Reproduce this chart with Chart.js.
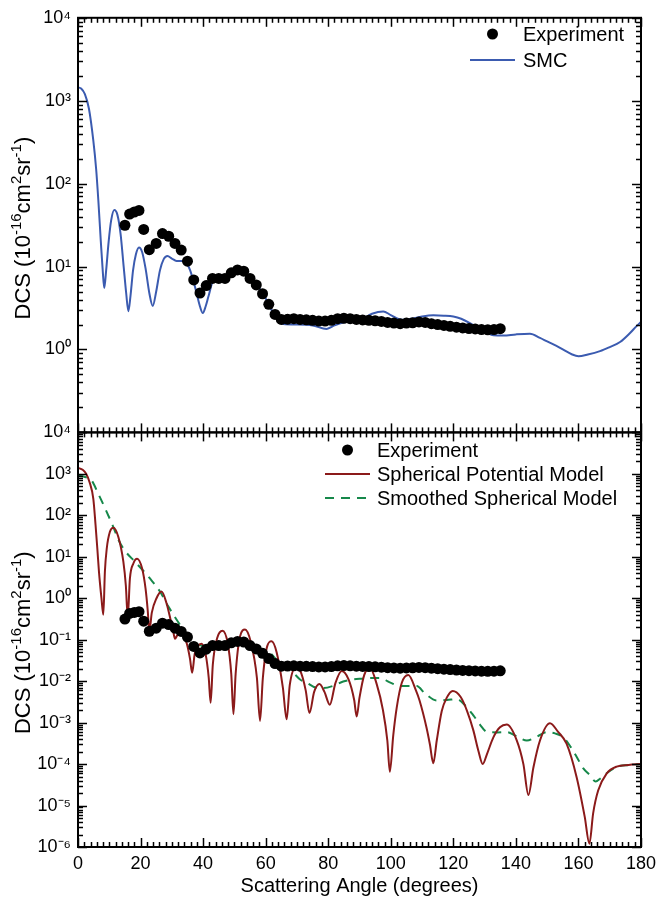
<!DOCTYPE html>
<html>
<head>
<meta charset="utf-8">
<script src="https://cdn.jsdelivr.net/npm/chart.js@4.4.1/dist/chart.umd.min.js"></script>
<style>
html,body{margin:0;padding:0;background:#fff;}
#wrap{position:relative;width:657px;height:909px;}
</style>
</head>
<body>
<div id="wrap"><canvas id="c"></canvas></div>
<script>
// ---------- DATA ----------
const expAngles = [15,16.5,18,19.5,21,22.8,25,27,29,31,33,35,37,39,41,43,45,47,49,51,53,55,57,59,61,63,65,67,69,71,73,75,77,79,81,83,85,87,89,91,93,95,97,99,101,103,105,107,109,111,113,115,117,119,121,123,125,127,129,131,133,135];
const expTop = [31.5,43,45.5,47.5,28,16,19,25,23.2,19,15.8,11.6,6.9,4.8,5.9,7.2,7.2,7.2,8.4,9.1,8.8,7.2,6.0,4.7,3.5,2.65,2.3,2.32,2.35,2.3,2.28,2.25,2.2,2.2,2.25,2.35,2.38,2.35,2.3,2.27,2.25,2.22,2.18,2.12,2.08,2.05,2.08,2.1,2.15,2.12,2.05,2.0,1.95,1.9,1.86,1.82,1.79,1.77,1.74,1.73,1.74,1.78];
const expBottom = [0.315,0.43,0.455,0.475,0.28,0.16,0.19,0.25,0.232,0.19,0.158,0.116,0.069,0.048,0.059,0.072,0.072,0.072,0.084,0.091,0.088,0.072,0.060,0.047,0.035,0.0265,0.023,0.0232,0.0235,0.023,0.0228,0.0225,0.022,0.022,0.0225,0.0235,0.0238,0.0235,0.023,0.0227,0.0225,0.0222,0.0218,0.0212,0.0208,0.0205,0.0208,0.021,0.0215,0.0212,0.0205,0.020,0.0195,0.019,0.0186,0.0182,0.0179,0.0177,0.0174,0.0173,0.0174,0.0178];

const smcAngles = [0,1,2.2,3.5,4.9,5.8,6.5,7.3,7.9,8.4,9,9.8,10.6,11.6,12.6,13.6,14.6,15.4,16.1,16.8,17.6,18.5,19.5,20.5,21.6,22.8,23.9,25,26.2,27.4,28.6,30,31.5,33.7,35,35.8,37,37.9,39,39.9,40.8,41.7,43.3,45,47,49,51,53,55,57,59,61,63,65.6,70,75,79.5,82,84.8,88,91,94,97.6,100,103.5,106.5,110,113.6,117,120,122.5,125.3,128,130.5,132.8,136,140,144.5,147.7,150,152,155,158,160,163,166.9,170,173.3,176.5,178.5,180];
const smcValues = [1450,1400,1200,800,330,150,63,20,9,5.5,9,20,36,48,42,25,10,4.8,2.9,4.5,9,14,17,15,9.5,4.8,3.35,5,9,12.3,13.4,12.5,11.7,11.7,10.5,9.1,6.5,4.8,3.3,2.75,3.3,4.35,6.9,7.3,7.3,8.2,9.0,8.8,7.5,6.1,4.8,3.5,2.5,2.03,2.0,1.95,1.77,1.95,2.12,2.2,2.35,2.7,2.88,2.6,2.28,2.35,2.5,2.58,2.56,2.5,2.35,2.08,1.8,1.62,1.48,1.47,1.52,1.55,1.38,1.25,1.15,1.0,0.87,0.83,0.87,0.955,1.07,1.23,1.58,1.9,2.15];

const spmAngles = [0,1.5,2.6,3.7,4.9,5.6,6.2,6.7,7.5,8.1,8.6,9.2,10.2,11.3,12.9,14.5,15.3,15.9,16.6,17.7,18.9,20.5,21.6,22.3,22.8,23.6,25.1,26.7,28.3,29.7,30.5,31,31.8,33.3,34.8,35.8,36.5,37.3,38.3,39.5,40.8,41.8,42.4,43.1,44.5,46.2,47.9,49,49.7,50.4,51.8,53.4,55.2,57.2,58.2,59.1,60.5,61.9,63.5,65.5,66.7,67.7,69.6,71,72.8,74,75.5,77.2,78.8,80.5,82.3,84.3,86.5,88.3,89.1,90,91.5,93.3,95.5,97.5,98.9,99.7,100.8,101.9,103.5,105.6,108.1,109.2,111.4,112.5,113.6,114.7,116.3,117.9,119.8,122.3,124.4,126.4,128,129.4,130.7,132.8,134.9,137.1,140.3,142.4,144,145.6,147.7,150.9,153.5,156.2,159.4,162,163.5,164.7,166.3,169,172.2,176,180];
const spmValues = [1400,1250,1000,630,250,60,15,4.4,1.0,0.4,4.4,16,40,50,30,7.6,2.0,0.35,3.0,6.9,9.0,5.2,1.7,0.5,0.16,0.45,1.0,1.45,0.76,0.28,0.15,0.105,0.13,0.15,0.08,0.035,0.016,0.045,0.07,0.08,0.045,0.012,0.003,0.025,0.11,0.165,0.08,0.015,0.0016,0.015,0.12,0.175,0.09,0.012,0.0011,0.012,0.07,0.092,0.05,0.007,0.0012,0.008,0.021,0.018,0.006,0.0017,0.0055,0.0085,0.0055,0.0027,0.009,0.0176,0.011,0.0035,0.0014,0.004,0.014,0.021,0.0085,0.002,0.00037,0.000065,0.0005,0.0023,0.009,0.014,0.0058,0.0034,0.00077,0.0003,0.000105,0.00037,0.0019,0.004,0.0058,0.0042,0.0019,0.00065,0.00021,0.0001,0.00017,0.00044,0.00077,0.0009,0.00037,0.0001,0.000018,0.000083,0.00037,0.00096,0.0006,0.00031,0.000049,0.0000054,0.0000012,0.0000065,0.000023,0.000059,0.000087,0.000095,0.0001];

const ssmAngles = [0,2,4.3,6.5,9.2,11.3,13,15,18.2,21,23,26.2,28.9,32.6,36.3,38.5,42,46,50,54,58,61.4,64,66.7,68.8,71,73.1,76,78.4,81.6,84.8,88,91,94,96.5,99.5,102.9,106,108.3,111,114.7,118,121.1,124,126.4,128.5,130.7,134,137.1,140,143.5,146.5,149.9,152.5,155.2,157.5,159.5,161.5,163.7,165.5,167,169,172.2,176,180];
const ssmValues = [900,850,700,330,120,52,25,14,7.6,4.5,3.0,1.45,0.63,0.23,0.1,0.075,0.07,0.075,0.08,0.075,0.062,0.048,0.03,0.021,0.016,0.011,0.0092,0.007,0.0068,0.0077,0.0098,0.011,0.0115,0.012,0.012,0.0095,0.0077,0.0076,0.0076,0.005,0.0034,0.0035,0.0037,0.0025,0.0015,0.0009,0.0006,0.00058,0.00059,0.00048,0.00037,0.00045,0.00059,0.00055,0.00044,0.00026,0.000146,0.00008,0.000054,0.000038,0.000045,0.00006,0.000085,0.000095,0.0001];

const xTickValues = [0,20,40,60,80,100,120,140,160,180];
const xTickLabels = ['0','20','40','60','80','100','120','140','160','180'];
const yTopTickValues = [0.1,1,10,100,1000,10000];
const yTopTickLabels = ['','10\u2070','10\u00B9','10\u00B2','10\u00B3','10\u2074'];
const yBotTickValues = [1e-6,1e-5,1e-4,1e-3,1e-2,1e-1,1,10,100,1000,10000];
const yBotTickLabels = ['10\u207B\u2076','10\u207B\u2075','10\u207B\u2074','10\u207B\u00B3','10\u207B\u00B2','10\u207B\u00B9','10\u2070','10\u00B9','10\u00B2','10\u00B3','10\u2074'];

const xTitle = 'Scattering Angle (degrees)';
// y-axis title pieces: [text, isSuperscript]
const yTitleParts = [['DCS (10', false], ['-16', true], ['cm', false], ['2', true], ['sr', false], ['-1', true], [')', false]];
const labels = ['Experiment','SMC','Experiment','Spherical Potential Model','Smoothed Spherical Model'];

// ---------- BUILD ----------
const pts = (a, v) => a.map((x, i) => ({x: x, y: v[i]}));
const FONT = "'Liberation Sans', Arial, Helvetica, sans-serif";
Chart.defaults.font.family = FONT;
Chart.defaults.color = '#000';

const framePlugin = {
  id: 'frame',
  afterDatasetsDraw(chart) {
    const ctx = chart.ctx;
    const xs = chart.scales.x;
    const panels = [chart.scales.yTop, chart.scales.yBot];
    ctx.save();
    ctx.strokeStyle = '#000';
    const seg = (x1, y1, x2, y2) => { ctx.beginPath(); ctx.moveTo(x1, y1); ctx.lineTo(x2, y2); ctx.stroke(); };
    panels.forEach(ys => {
      const L = xs.left, R = xs.right, T = ys.top, B = ys.bottom;
      ctx.lineWidth = 1.5;
      for (let v = xs.min; v <= xs.max + 1e-9; v += 2) {
        const px = Math.round(xs.getPixelForValue(v)) + 0.5;
        const len = (Math.round(v) % 20 === 0) ? 9 : 5;
        seg(px, T, px, T + len);
        seg(px, B, px, B - len);
      }
      const dmin = Math.round(Math.log10(ys.min)), dmax = Math.round(Math.log10(ys.max));
      for (let d = dmin; d <= dmax; d++) {
        for (let m = 1; m <= 9; m++) {
          const v = m * Math.pow(10, d);
          if (v > ys.max * 1.0001) break;
          const py = Math.round(ys.getPixelForValue(v)) + 0.5;
          const len = m === 1 ? 9 : 5;
          seg(L, py, L + len, py);
          seg(R, py, R - len, py);
        }
      }
      ctx.lineWidth = 2;
      ctx.strokeRect(L, T, R - L, B - T);
    });
    ctx.restore();
  }
};

const yTitlePlugin = {
  id: 'yTitles',
  afterDraw(chart, args, opts) {
    const ctx = chart.ctx;
    const mainF = opts.size + 'px ' + FONT, supF = opts.supSize + 'px ' + FONT;
    ctx.save();
    ctx.fillStyle = '#000';
    ctx.textBaseline = 'alphabetic';
    ctx.textAlign = 'left';
    let total = 0;
    yTitleParts.forEach(p => { ctx.font = p[1] ? supF : mainF; total += ctx.measureText(p[0]).width; });
    [chart.scales.yTop, chart.scales.yBot].forEach(ys => {
      const cy = (ys.top + ys.bottom) / 2 + opts.shift;
      ctx.save();
      ctx.translate(opts.x, cy);
      ctx.rotate(-Math.PI / 2);
      let cx = -total / 2;
      const base = opts.size * 0.36;
      yTitleParts.forEach(p => {
        ctx.font = p[1] ? supF : mainF;
        ctx.fillText(p[0], cx, p[1] ? base - opts.size * 0.42 : base);
        cx += ctx.measureText(p[0]).width;
      });
      ctx.restore();
    });
    ctx.restore();
  }
};

const legendPlugin = {
  id: 'panelLegend',
  afterDraw(chart, args, opts) {
    const ctx = chart.ctx;
    ctx.save();
    ctx.font = opts.fontSize + 'px ' + FONT;
    ctx.textBaseline = 'middle';
    ctx.textAlign = 'left';
    ctx.fillStyle = '#000';
    opts.groups.forEach(g => {
      g.items.forEach((di, k) => {
        const ds = chart.data.datasets[di];
        const y = g.y + k * g.dy;
        const x0 = g.x, x1 = g.x + g.symW;
        if (ds.showLine === false) {
          ctx.beginPath();
          ctx.fillStyle = ds.pointBackgroundColor;
          ctx.arc((x0 + x1) / 2, y, ds.pointRadius, 0, Math.PI * 2);
          ctx.fill();
        } else {
          ctx.beginPath();
          ctx.strokeStyle = ds.borderColor;
          ctx.lineWidth = ds.borderWidth;
          ctx.setLineDash(ds.borderDash || []);
          ctx.moveTo(x0, y); ctx.lineTo(x1, y);
          ctx.stroke();
          ctx.setLineDash([]);
        }
        ctx.fillStyle = '#000';
        ctx.fillText(ds.label, x1 + g.gap, y + 1);
      });
    });
    ctx.restore();
  }
};

const lineStyle = (color, dash) => ({
  showLine: true, borderColor: color, backgroundColor: color, borderWidth: 2,
  borderDash: dash || [], pointRadius: 0, pointHoverRadius: 0,
  cubicInterpolationMode: 'monotone', fill: false
});
const dotStyle = {
  showLine: false, pointRadius: 5.5, pointHoverRadius: 5.5,
  pointBackgroundColor: '#000', pointBorderWidth: 0, borderColor: '#000', backgroundColor: '#000'
};

const yCommon = (vals, labs) => ({
  type: 'logarithmic', position: 'left', stack: 'dcs', stackWeight: 1,
  afterBuildTicks: s => { s.ticks = vals.map(v => ({value: v})); },
  afterFit: s => { s.width = 78; },
  ticks: { autoSkip: false, font: {size: 18}, color: '#000', padding: 7,
           callback: (v, i) => labs[i] },
  grid: { display: false, drawTicks: false },
  border: { display: false },
  title: { display: false }
});

new Chart(document.getElementById('c'), {
  type: 'line',
  data: {
    datasets: [
      Object.assign({label: labels[0], data: pts(expAngles, expTop), yAxisID: 'yTop'}, dotStyle),
      Object.assign({label: labels[1], data: pts(smcAngles, smcValues), yAxisID: 'yTop'}, lineStyle('#3b5bb0')),
      Object.assign({label: labels[2], data: pts(expAngles, expBottom), yAxisID: 'yBot'}, dotStyle),
      Object.assign({label: labels[3], data: pts(spmAngles, spmValues), yAxisID: 'yBot'}, lineStyle('#8b1a1a')),
      Object.assign({label: labels[4], data: pts(ssmAngles, ssmValues), yAxisID: 'yBot'}, lineStyle('#16884a', [9, 7]))
    ]
  },
  options: {
    responsive: true, maintainAspectRatio: false, animation: false,
    layout: { padding: {top: 13, right: 16, bottom: 0, left: 0} },
    plugins: {
      legend: { display: false }, tooltip: { enabled: false },
      yTitles: { x: 22, size: 22, supSize: 15, shift: 3 },
      panelLegend: {
        fontSize: 20,
        groups: [
          {x: 470, y: 34, dy: 26, symW: 45, gap: 8, items: [0, 1]},
          {x: 325, y: 450, dy: 24, symW: 45, gap: 7, items: [2, 3, 4]}
        ]
      }
    },
    scales: {
      x: {
        type: 'linear', position: 'bottom', min: 0, max: 180,
        afterBuildTicks: s => { s.ticks = xTickValues.map(v => ({value: v})); },
        afterFit: s => { s.height = 62; s.paddingLeft = 0; s.paddingRight = 0; },
        ticks: { autoSkip: false, maxRotation: 0, font: {size: 18}, color: '#000', padding: 6,
                 callback: (v, i) => xTickLabels[i] },
        grid: { display: false, drawTicks: false },
        border: { display: false },
        title: { display: true, text: xTitle, font: {size: 20}, color: '#000', padding: {top: 0, bottom: 11} }
      },
      yBot: Object.assign(yCommon(yBotTickValues, yBotTickLabels), {min: 1e-6, max: 1e4}),
      yTop: Object.assign(yCommon(yTopTickValues, yTopTickLabels), {min: 0.1, max: 1e4})
    }
  },
  plugins: [framePlugin, yTitlePlugin, legendPlugin]
});
</script>
</body>
</html>
